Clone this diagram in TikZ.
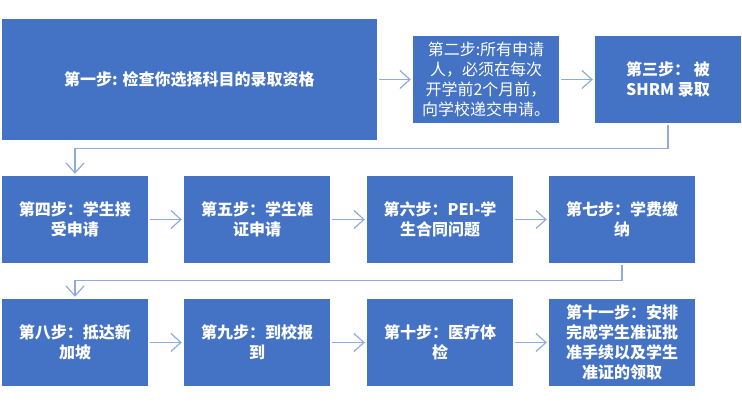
\documentclass[tikz,border=0pt]{standalone}
\usepackage{fontspec}
\setmainfont{Noto Sans CJK SC}
\usetikzlibrary{arrows.meta}
\definecolor{boxblue}{HTML}{4472C4}
\definecolor{lineblue}{HTML}{8FAADC}
\begin{document}
\begin{tikzpicture}[x=1pt,y=-1pt,
        stepbox/.style={fill=boxblue,text=white,inner sep=0pt,minimum width=146pt,minimum height=87pt,align=center,font=\fontsize{16}{20}\selectfont\bfseries},
        link/.style={draw=lineblue,line width=1.2pt,->,shorten <=2pt,shorten >=2pt},
        >={Straight Barb[length=10pt,width=18pt]}]
        \useasboundingbox (0,0) rectangle (742,404);
        \node[stepbox,minimum width=375pt,minimum height=121pt] (s1) at (189.5,79.5) {第一步: 检查你选择科目的录取资格};
        \node[stepbox,font=\fontsize{16}{20}\selectfont\mdseries] (s2) at (486,79.5) {第二步:所有申请\\人，必须在每次\\开学前2个月前，\\向学校递交申请。};
        \node[stepbox] (s3) at (668,79.5) {第三步： 被\\SHRM 录取};
        \node[stepbox] (s4) at (75,219.5) {第四步：学生接\\受申请};
        \node[stepbox] (s5) at (257,219.5) {第五步：学生准\\证申请};
        \node[stepbox] (s6) at (440,219.5) {第六步：PEI-学\\生合同问题};
        \node[stepbox] (s7) at (622,219.5) {第七步：学费缴\\纳};
        \node[stepbox] (s8) at (75,342.5) {第八步：抵达新\\加坡};
        \node[stepbox] (s9) at (257,342.5) {第九步：到校报\\到};
        \node[stepbox] (s10) at (440,342.5) {第十步：医疗体\\检};
        \node[stepbox] (s11) at (622,342.5) {第十一步：安排\\完成学生准证批\\准手续以及学生\\准证的领取};
        \draw[link] (s1) -- (s2);
        \draw[link] (s2) -- (s3);
        \draw[link] (s3.south) -- ++(0,25) -| (s4.north);
        \draw[link] (s4) -- (s5);
        \draw[link] (s5) -- (s6);
        \draw[link] (s6) -- (s7);
        \draw[link] (s7.south) -- ++(0,17) -| (s8.north);
        \draw[link] (s8) -- (s9);
        \draw[link] (s9) -- (s10);
        \draw[link] (s10) -- (s11);
\end{tikzpicture}
\end{document}
